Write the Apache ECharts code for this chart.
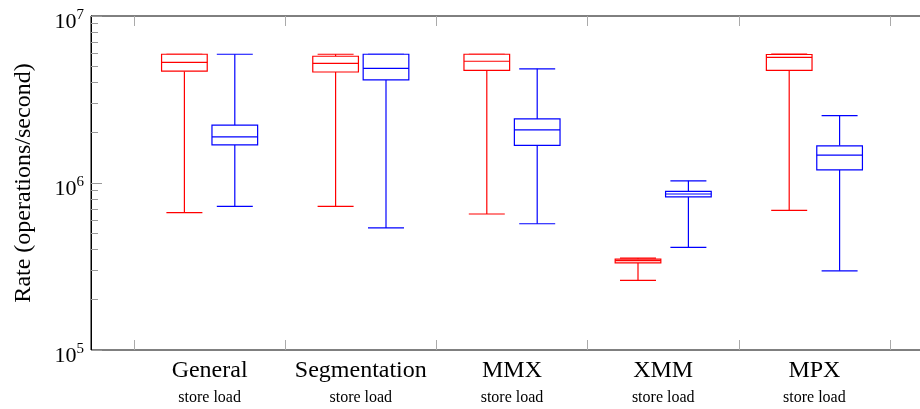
<!DOCTYPE html>
<html>
<head>
<meta charset="utf-8">
<script src="https://cdn.jsdelivr.net/npm/echarts@6/dist/echarts.min.js"></script>
<style>html,body{margin:0;padding:0;background:#fff}#c{width:920px;height:409px}</style>
</head>
<body>
<div id="c"></div>
<script>
// ---- data ----
const categories = ['General', 'Segmentation', 'MMX', 'XMM', 'MPX'];
const seriesNames = ['store', 'load'];
// [min, q1, median, q3, max]
const storeGeneral = [6.64e5, 4.67e6, 5.28e6, 5.90e6, 5.90e6];
const storeSegmentation = [7.25e5, 4.62e6, 5.21e6, 5.74e6, 5.90e6];
const storeMMX = [6.52e5, 4.73e6, 5.36e6, 5.90e6, 5.90e6];
const storeXMM = [2.61e5, 3.32e5, 3.43e5, 3.50e5, 3.55e5];
const storeMPX = [6.86e5, 4.73e6, 5.66e6, 5.88e6, 5.92e6];
const loadGeneral = [7.25e5, 1.69e6, 1.89e6, 2.22e6, 5.90e6];
const loadSegmentation = [5.38e5, 4.14e6, 4.86e6, 5.90e6, 5.90e6];
const loadMMX = [5.70e5, 1.68e6, 2.08e6, 2.42e6, 4.83e6];
const loadXMM = [4.12e5, 8.25e5, 8.59e5, 8.92e5, 1.03e6];
const loadMPX = [2.98e5, 1.20e6, 1.47e6, 1.67e6, 2.53e6];
const storeData = [storeGeneral, storeSegmentation, storeMMX, storeXMM, storeMPX];
const loadData = [loadGeneral, loadSegmentation, loadMMX, loadXMM, loadMPX];
const yMin = 1e5, yMax = 1e7;
const yMinorTicks = [2e5,3e5,4e5,5e5,6e5,7e5,8e5,9e5,2e6,3e6,4e6,5e6,6e6,7e6,8e6,9e6];

// ---- chart ----
const FONT = '"Liberation Serif", "DejaVu Serif", serif';
const chart = echarts.init(document.getElementById('c'));

function boxSeries(name, data, color, side) {
  return {
    type: 'custom',
    name: name,
    xAxisIndex: 1,
    yAxisIndex: 2,
    data: data.map((d, i) => [i].concat(d)),
    encode: { x: 0, y: [1, 2, 3, 4, 5] },
    renderItem: function (params, api) {
      const i = api.value(0);
      const band = api.size([1, 0])[0];
      const cx = api.coord([i, yMin])[0] + side * band / 6;
      const boxW = band * 0.302;
      const capW = band * 0.238;
      const yv = [1, 2, 3, 4, 5].map(k => api.coord([i, api.value(k)])[1]);
      const st = { stroke: color, lineWidth: 1.2, fill: null };
      return {
        type: 'group',
        children: [
          { type: 'line', shape: { x1: cx, y1: yv[0], x2: cx, y2: yv[1] }, style: st },
          { type: 'line', shape: { x1: cx, y1: yv[3], x2: cx, y2: yv[4] }, style: st },
          { type: 'line', shape: { x1: cx - capW / 2, y1: yv[0], x2: cx + capW / 2, y2: yv[0] }, style: st },
          { type: 'line', shape: { x1: cx - capW / 2, y1: yv[4], x2: cx + capW / 2, y2: yv[4] }, style: st },
          { type: 'rect', shape: { x: cx - boxW / 2, y: yv[3], width: boxW, height: yv[1] - yv[3] }, style: { stroke: color, lineWidth: 1.2, fill: '#fff' } },
          { type: 'line', shape: { x1: cx - boxW / 2, y1: yv[2], x2: cx + boxW / 2, y2: yv[2] }, style: st }
        ]
      };
    }
  };
}

const yLabelFmt = v => '{b|10}{s|' + Math.round(Math.log10(v)) + '}';

chart.setOption({
  animation: false,
  grid: [
    { left: 91, right: -8, top: 16, bottom: 59, show: true, borderColor: '#000', borderWidth: 1,
      backgroundColor: 'transparent', outerBoundsMode: 'none', containLabel: false },
    { left: 134, right: 30, top: 16, bottom: 59, outerBoundsMode: 'none', containLabel: false }
  ],
  xAxis: [
    { gridIndex: 0, type: 'value', min: 0, max: 1, show: false },
    { gridIndex: 1, type: 'category', data: categories, position: 'bottom',
      axisLine: { show: false },
      axisTick: { show: true, inside: true, length: 10, alignWithLabel: false, lineStyle: { color: '#aaa', width: 1 } },
      axisLabel: {
        margin: 7,
        formatter: v => '{c|' + v + '}\n{s|' + seriesNames.join(' ') + '}',
        rich: {
          c: { fontFamily: FONT, fontSize: 24, color: '#000', lineHeight: 28 },
          s: { fontFamily: FONT, fontSize: 16, color: '#000', lineHeight: 26 }
        }
      },
      splitLine: { show: false } },
    { gridIndex: 1, type: 'category', data: categories, position: 'top',
      axisLine: { show: false },
      axisTick: { show: true, inside: true, length: 10, alignWithLabel: false, lineStyle: { color: '#aaa', width: 1 } },
      axisLabel: { show: false }, splitLine: { show: false } }
  ],
  yAxis: [
    { gridIndex: 0, type: 'log', logBase: 10, min: yMin, max: yMax, position: 'left',
      name: 'Rate (operations/second)', nameLocation: 'middle', nameGap: 55,
      nameTextStyle: { fontFamily: FONT, fontSize: 24, color: '#000' },
      axisLine: { show: true, onZero: false, lineStyle: { color: '#000', width: 1 } },
      axisTick: { show: true, inside: true, length: 11, lineStyle: { color: '#999', width: 1 } },
      axisLabel: { margin: 7, padding: [9, 0, 0, 0], formatter: yLabelFmt,
        rich: {
          b: { fontFamily: FONT, fontSize: 22, color: '#000', lineHeight: 26, verticalAlign: 'bottom' },
          s: { fontFamily: FONT, fontSize: 15, color: '#000', lineHeight: 26, verticalAlign: 'top' }
        } },
      splitLine: { show: false } },
    { gridIndex: 0, type: 'log', logBase: 10, min: yMin, max: yMax, position: 'left',
      axisLine: { show: false },
      axisTick: { show: true, inside: true, length: 7, customValues: yMinorTicks, lineStyle: { color: '#999', width: 1 } },
      axisLabel: { show: false }, splitLine: { show: false } },
    { gridIndex: 1, type: 'log', logBase: 10, min: yMin, max: yMax, show: false }
  ],
  series: [
    boxSeries(seriesNames[0], storeData, '#ff0000', -1),
    boxSeries(seriesNames[1], loadData, '#0000ff', 1)
  ]
});
</script>
</body>
</html>
